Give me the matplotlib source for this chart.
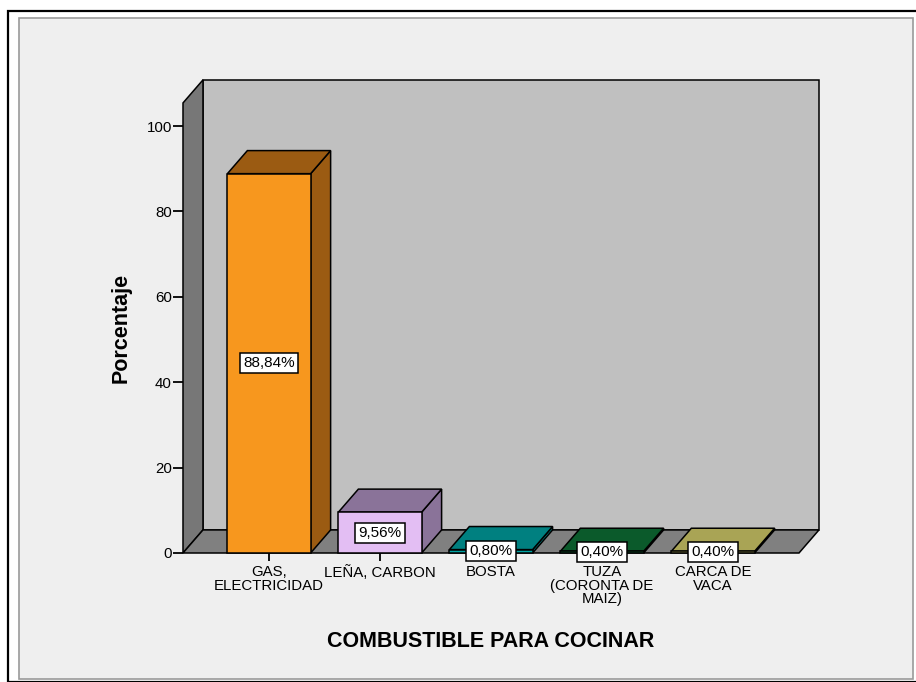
import matplotlib
matplotlib.use("Agg")
import matplotlib.pyplot as plt
from matplotlib.patches import Polygon, Rectangle

plt.rcParams['font.family'] = ['Liberation Sans', 'DejaVu Sans']

# Data
categorias = ["GAS,\nELECTRICIDAD", "LEÑA, CARBON", "BOSTA",
              "TUZA\n(CORONTA DE\nMAIZ)", "CARCA DE\nVACA"]
porcentajes = [88.84, 9.56, 0.80, 0.40, 0.40]
color_frente = ["#f7971e", "#e3bef3", "#00a3a3", "#0e6a34", "#b2ac5c"]
color_tapa = ["#9b5b12", "#8a7399", "#008080", "#0b5a2b", "#a9a455"]
yticks = [0, 20, 40, 60, 80, 100]

# 3D box geometry (data units)
ancho = 0.75
dx, dy = 0.18, 5.4
xmin, xmax = -0.775, 4.775
techo = 105.4

W, H = 916, 682
fig = plt.figure(figsize=(W / 100, H / 100), dpi=100, facecolor="white")

# chart frame (behind the axes)
fig.add_artist(Rectangle((8 / W, 0), 1, 1 - 11 / H, transform=fig.transFigure,
                         facecolor="white", edgecolor="black", lw=1.6,
                         zorder=-10))
fig.add_artist(Rectangle((19 / W, 3 / H), (913 - 19) / W, (679 - 18) / H,
                         transform=fig.transFigure, facecolor="#efefef",
                         edgecolor="#9a9a9a", lw=1.2, zorder=-9))

ax = fig.add_axes([183 / W, (H - 553) / H, 616 / W, 427 / H])
ax.set_xlim(xmin, xmax)
ax.set_ylim(0, 100)
ax.patch.set_visible(False)
for s in ax.spines.values():
    s.set_visible(False)

def poly(pts, fc, z):
    ax.add_patch(Polygon(pts, closed=True, facecolor=fc, edgecolor="black",
                         lw=1.1, joinstyle="miter", clip_on=False, zorder=z))

# walls and floor
poly([(xmin + dx, dy), (xmax + dx, dy), (xmax + dx, techo + dy),
      (xmin + dx, techo + dy)], "#c0c0c0", 1)
poly([(xmin, 0), (xmin, techo), (xmin + dx, techo + dy), (xmin + dx, dy)],
     "#777777", 1)
poly([(xmin, 0), (xmax, 0), (xmax + dx, dy), (xmin + dx, dy)], "#808080", 1)

# bars
for i, (v, cf, ct) in enumerate(zip(porcentajes, color_frente, color_tapa)):
    x0, x1 = i - ancho / 2, i + ancho / 2
    poly([(x1, 0), (x1 + dx, dy), (x1 + dx, v + dy), (x1, v)], ct, 2)
    poly([(x0, v), (x1, v), (x1 + dx, v + dy), (x0 + dx, v + dy)], ct, 2)
    poly([(x0, 0), (x1, 0), (x1, v), (x0, v)], cf, 3)
    ax.text(i, v / 2, f"{v:.2f}".replace(".", ",") + "%", ha="center",
            va="center", fontsize=11, zorder=5,
            bbox=dict(boxstyle="square,pad=0.2", fc="white", ec="black", lw=1.1))

ax.set_yticks(yticks)
ax.set_yticklabels([str(t) for t in yticks], fontsize=10.8)
ax.set_xticks(range(len(categorias)))
ax.set_xticklabels(categorias, fontsize=10.8)
for lbl in ax.get_xticklabels():
    lbl.set_linespacing(0.95)
ax.tick_params(axis="y", direction="out", length=7, width=1.3, pad=1)
ax.tick_params(axis="x", direction="out", length=6, width=1.3, pad=3)

ax.set_xlabel("COMBUSTIBLE PARA COCINAR", fontsize=15.5, fontweight="bold",
              labelpad=18)
ax.text(-0.1006, 0.527, "Porcentaje", transform=ax.transAxes, rotation=90,
        ha="center", va="center", fontsize=15.5, fontweight="bold")

fig.savefig("out.png", dpi=100, facecolor="white")
